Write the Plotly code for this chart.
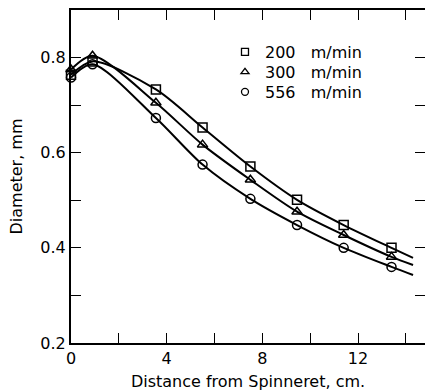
import plotly.graph_objects as go

# Measured data (distance cm, diameter mm)
x_pts = [0, 0.9, 3.55, 5.5, 7.5, 9.45, 11.4, 13.4]
d_200 = [0.764, 0.792, 0.733, 0.653, 0.571, 0.501, 0.448, 0.400]
d_300 = [0.775, 0.804, 0.705, 0.617, 0.543, 0.476, 0.427, 0.381]
d_556 = [0.758, 0.786, 0.673, 0.575, 0.503, 0.448, 0.400, 0.360]

# Fitted curve extension end
x_end = 14.3
end_200 = 0.379
end_300 = 0.364
end_556 = 0.343

labels = ["200   m/min", "300   m/min", "556   m/min"]
symbols = ["square-open", "triangle-up-open", "circle-open"]
values = [d_200, d_300, d_556]
ends = [end_200, end_300, end_556]
legend_ids = ["legend", "legend2", "legend3"]

FONT = "DejaVu Sans"
fig = go.Figure()
for ys, yend in zip(values, ends):
    fig.add_trace(go.Scatter(
        x=x_pts + [x_end], y=ys + [yend], mode="lines",
        line=dict(color="black", width=2, shape="spline", smoothing=0.8),
        showlegend=False, hoverinfo="skip"))
for ys, sym in zip(values, symbols):
    fig.add_trace(go.Scatter(
        x=x_pts, y=ys, mode="markers", showlegend=False,
        marker=dict(symbol=sym, size=9, color="black",
                    line=dict(color="black", width=1.5)),
        cliponaxis=False))
# legend-only entries with smaller symbols, one legend per row
for name, sym, lid in zip(labels, symbols, legend_ids):
    fig.add_trace(go.Scatter(
        x=[None], y=[None], mode="markers", name=name, legend=lid,
        marker=dict(symbol=sym, size=7, color="black",
                    line=dict(color="black", width=1.3))))

# invisible trace for right-side ticks
fig.add_trace(go.Scatter(x=[0], y=[0.2], yaxis="y2", mode="markers",
                         marker=dict(opacity=0), showlegend=False, hoverinfo="skip"))

def leg(yv):
    return dict(x=0.435, y=yv, xanchor="left", yanchor="middle",
                bgcolor="rgba(0,0,0,0)", font=dict(size=16),
                itemsizing="trace")

fig.update_layout(
    width=425, height=391,
    margin=dict(l=71, r=0, t=10, b=48),
    paper_bgcolor="white", plot_bgcolor="white",
    font=dict(family=FONT, size=16, color="black"),
    showlegend=True,
    legend=leg(0.874), legend2=leg(0.814), legend3=leg(0.754),
    xaxis=dict(range=[0, 14.8], tickvals=[0, 4, 8, 12],
               ticks="inside", ticklen=10, tickwidth=1.2, tickcolor="black",
               minor=dict(tickvals=[2, 6, 10, 14], ticks="inside", ticklen=10,
                          tickwidth=1.2, tickcolor="black"),
               showline=True, linecolor="black", linewidth=2, mirror="ticks",
               showgrid=False, zeroline=False,
               tickfont=dict(size=16),
               title=dict(text="Distance from Spinneret, cm.", font=dict(size=16), standoff=12)),
    yaxis=dict(range=[0.2, 0.9], tickvals=[0.2, 0.4, 0.6, 0.8],
               ticktext=["0.2", "0.4", "0.6", "0.8"],
               ticks="inside", ticklen=10, tickwidth=1.2, tickcolor="black",
               minor=dict(tickvals=[0.3, 0.5, 0.7], ticks="inside", ticklen=10,
                          tickwidth=1.2, tickcolor="black"),
               showline=True, linecolor="black", linewidth=2,
               showgrid=False, zeroline=False,
               tickfont=dict(size=16),
               title=dict(text="Diameter, mm", font=dict(size=16), standoff=14)),
    yaxis2=dict(range=[0.2, 0.9], overlaying="y", side="right",
                tickvals=[0.3, 0.4, 0.5, 0.6, 0.7, 0.8], showticklabels=False,
                ticks="inside", ticklen=10, tickwidth=1.2, tickcolor="black",
                showline=False, showgrid=False, zeroline=False),
)

fig.write_html("out.html")
